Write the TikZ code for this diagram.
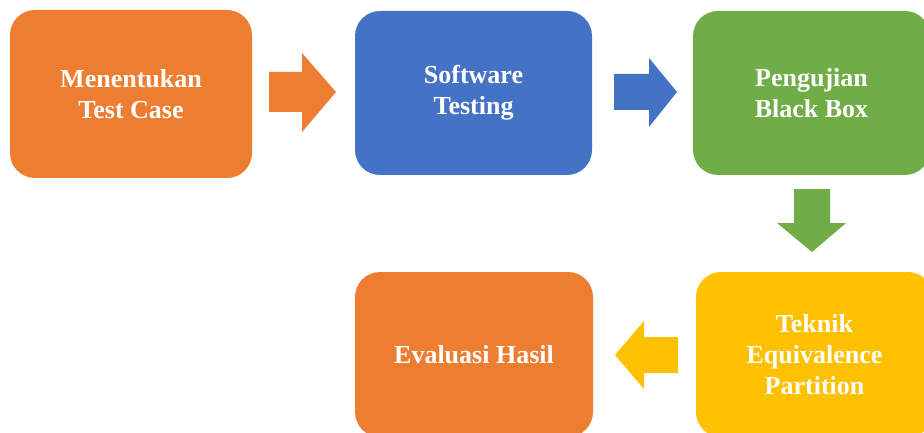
\documentclass[tikz,border=0pt]{standalone}
\usepackage{fontspec}
\setmainfont{Liberation Serif}
\definecolor{corange}{HTML}{ED7D31}
\definecolor{cblue}{HTML}{4472C4}
\definecolor{cgreen}{HTML}{70AD47}
\definecolor{cyellow}{HTML}{FFC000}
\tikzset{
  box/.style={rounded corners=25pt, outer sep=0pt, inner sep=0pt, align=center,
    text=white, font=\fontsize{26}{31}\selectfont\bfseries},
}
\begin{document}
\begin{tikzpicture}[x=1pt,y=-1pt]
\useasboundingbox (0,0) rectangle (924,433);
\clip (0,0) rectangle (924,433);
\node[box, fill=corange, minimum width=242pt, minimum height=168pt] (n1) at (131,94) {Menentukan\\Test Case};
\node[box, fill=cblue, minimum width=237pt, minimum height=164pt] (n2) at (473.5,93) {Software\\Testing};
\node[box, fill=cgreen, minimum width=237pt, minimum height=164pt] (n3) at (811.5,93) {Pengujian\\Black Box};
\node[box, fill=cyellow, minimum width=237pt, minimum height=165pt] (n4) at (814.5,354.5) {Teknik\\Equivalence\\Partition};
\node[box, fill=corange, minimum width=238pt, minimum height=165pt] (n5) at (474,354.5) {Evaluasi Hasil};
% block arrows
\fill[corange] (269,72) -- (302,72) -- (302,53) -- (336,92) -- (302,132) -- (302,112) -- (269,112) -- cycle;
\fill[cblue] (614,74) -- (649,74) -- (649,58) -- (677,92) -- (649,127) -- (649,110) -- (614,110) -- cycle;
\fill[cgreen] (794,189) -- (830,189) -- (830,223) -- (846,223) -- (812,252) -- (777,223) -- (794,223) -- cycle;
\fill[cyellow] (678,337) -- (644,337) -- (644,321) -- (615,355) -- (644,389) -- (644,373) -- (678,373) -- cycle;
\end{tikzpicture}
\end{document}
